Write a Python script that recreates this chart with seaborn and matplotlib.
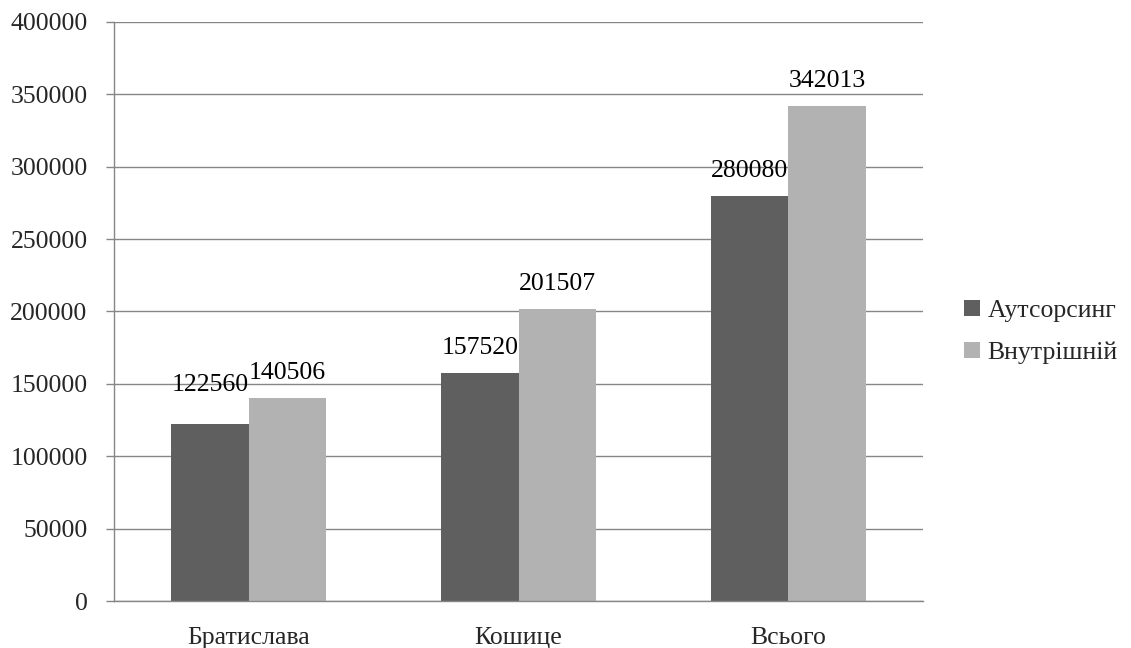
import matplotlib
matplotlib.use("Agg")
import matplotlib.pyplot as plt
import seaborn as sns
import pandas as pd
from matplotlib.patches import Patch

categories = ["Братислава", "Кошице", "Всього"]
outsourcing = [122560, 157520, 280080]
internal = [140506, 201507, 342013]
series_names = ["Аутсорсинг", "Внутрішній"]
colors = ["#5f5f5f", "#b2b2b2"]

df = pd.DataFrame({
    "cat": categories * 2,
    "val": outsourcing + internal,
    "series": [series_names[0]] * 3 + [series_names[1]] * 3,
})

sns.set_theme(style="white")
plt.rcParams["font.family"] = ["Liberation Serif", "DejaVu Serif"]
fs = 18.5

fig = plt.figure(figsize=(11.31, 6.48), dpi=100)
ax = fig.add_axes([114/1131, 1-601/648, (923-114)/1131, (601-22)/648])

sns.barplot(data=df, x="cat", y="val", hue="series", palette=colors,
            width=0.575, ax=ax, legend=False, saturation=1, edgecolor="none")

c0, c1 = ax.containers[0], ax.containers[1]
lab0 = [str(v) for v in outsourcing]
ax.bar_label(c0, labels=[""] + lab0[1:], fontsize=fs, padding=10, color="black")
ax.bar_label(c0, labels=[lab0[0], "", ""], fontsize=fs, padding=20, color="black")
ax.bar_label(c1, labels=[str(v) for v in internal], fontsize=fs, padding=10, color="black")

ax.set_xlim(-0.5, 2.5)
ax.set_ylim(0, 400000)
ax.set_yticks(range(0, 400001, 50000))
ax.set_yticklabels([str(v) for v in range(0, 400001, 50000)], fontsize=fs)
ax.set_xticks(range(3))
ax.set_xticklabels(categories, fontsize=fs)
ax.set_xticks([-0.5, 0.5, 1.5, 2.5], minor=True)
ax.tick_params(axis="x", which="major", length=0, pad=19)
ax.tick_params(axis="x", which="minor", length=6, color="#868686", width=1, direction="out")
ax.tick_params(axis="y", which="major", length=6, color="#868686", width=1, direction="out", pad=13, left=True)
ax.set_xlabel("")
ax.set_ylabel("")
ax.yaxis.grid(True, color="#868686", linewidth=1)
ax.set_axisbelow(True)
for s in ["top", "right"]:
    ax.spines[s].set_visible(False)
for s in ["left", "bottom"]:
    ax.spines[s].set_color("#868686")
    ax.spines[s].set_linewidth(1)

handles = [Patch(facecolor=c, edgecolor="none") for c in colors]
fig.legend(handles, series_names, loc="center left", bbox_to_anchor=(941/1131, 1-332/648),
           frameon=False, fontsize=fs, handlelength=0.6, handleheight=0.6,
           handletextpad=0.3, labelspacing=0.75)

fig.savefig("out.png", dpi=100)
